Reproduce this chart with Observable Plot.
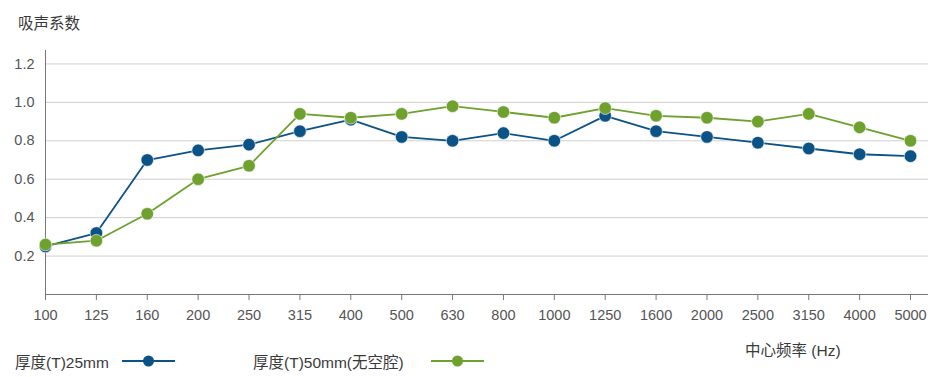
<!DOCTYPE html>
<html><head><meta charset="utf-8">
<script src="https://cdn.jsdelivr.net/npm/d3@7"></script>
<script src="https://cdn.jsdelivr.net/npm/@observablehq/plot@0.6"></script>
<style>
body{margin:0;background:#fff;font-family:"Liberation Sans","Noto Sans CJK SC",sans-serif;}
#wrap{position:relative;width:937px;height:377px;}
.t{position:absolute;color:#3a3a3a;font-size:15.5px;white-space:nowrap;font-family:"Liberation Sans","Noto Sans CJK SC",sans-serif;}
svg.lg{position:absolute;}
</style></head>
<body><div id="wrap"></div>
<script>
const freqs = ["100","125","160","200","250","315","400","500","630","800","1000","1250","1600","2000","2500","3150","4000","5000"];
const t25 = [0.25,0.32,0.70,0.75,0.78,0.85,0.91,0.82,0.80,0.84,0.80,0.93,0.85,0.82,0.79,0.76,0.73,0.72];
const t50 = [0.26,0.28,0.42,0.60,0.67,0.94,0.92,0.94,0.98,0.95,0.92,0.97,0.93,0.92,0.90,0.94,0.87,0.80];
const yTicks = [0.2,0.4,0.6,0.8,1.0,1.2];
const seriesNames = ["厚度(T)25mm","厚度(T)50mm(无空腔)"];
const colors = ["#0b5286","#6ea12e"];
const title = "吸声系数";
const xLabel = "中心频率 (Hz)";

const d25 = freqs.map((f,i)=>({f, v:t25[i]}));
const d50 = freqs.map((f,i)=>({f, v:t50[i]}));

const chart = Plot.plot({
  width:937, height:377,
  marginLeft:45, marginRight:9, marginTop:50, marginBottom:83,
  style:{fontFamily:"Liberation Sans, sans-serif", fontSize:"14.5px", color:"#555", background:"transparent"},
  x:{type:"point", domain:freqs, range:[45,910], padding:0, round:false, label:null},
  y:{domain:[0,1.27], label:null},
  marks:[
    Plot.gridY(yTicks,{stroke:"#cfcfcf", strokeOpacity:1, strokeWidth:1}),
    Plot.ruleY([0],{stroke:"#777", strokeWidth:1}),
    Plot.ruleX([freqs[0]],{x:d=>d, y1:0, y2:1.27, stroke:"#777", strokeWidth:1}),
    Plot.axisY(yTicks,{tickSize:0, tickPadding:11, tickFormat:d3.format(".1f"), fill:"#555", fontSize:14.5, label:null}),
    Plot.axisX({tickSize:6, tickPadding:9, stroke:"#777", fill:"#555", fontSize:14.5, label:null}),
    Plot.line(d25,{x:"f", y:"v", stroke:colors[0], strokeWidth:1.8}),
    Plot.line(d50,{x:"f", y:"v", stroke:colors[1], strokeWidth:1.8}),
    Plot.dot(d25,{x:"f", y:"v", r:6.3, fill:colors[0], stroke:"white", strokeWidth:0.6}),
    Plot.dot(d50,{x:"f", y:"v", r:6.3, fill:colors[1], stroke:"white", strokeWidth:0.6})
  ]
});
const wrap = document.getElementById("wrap");
chart.style.position="absolute"; chart.style.left="0"; chart.style.top="0";
wrap.appendChild(chart);

function addText(txt, x, y){
  const d=document.createElement("div"); d.className="t"; d.textContent=txt;
  d.style.left=x+"px"; d.style.top=y+"px";
  wrap.appendChild(d); return d;
}
addText(title, 18, 11);
addText(xLabel, 745, 338);
addText(seriesNames[0], 15, 350);
addText(seriesNames[1], 253, 350);
function legendSym(x, color){
  const ns="http://www.w3.org/2000/svg";
  const s=document.createElementNS(ns,"svg"); s.setAttribute("class","lg");
  s.setAttribute("width",60); s.setAttribute("height",16);
  s.style.left=x+"px"; s.style.top="353px";
  const l=document.createElementNS(ns,"line");
  l.setAttribute("x1",2);l.setAttribute("x2",55);l.setAttribute("y1",8);l.setAttribute("y2",8);
  l.setAttribute("stroke",color);l.setAttribute("stroke-width",1.8);
  const c=document.createElementNS(ns,"circle");
  c.setAttribute("cx",28.5);c.setAttribute("cy",8);c.setAttribute("r",5.5);c.setAttribute("fill",color);
  s.appendChild(l);s.appendChild(c);wrap.appendChild(s);
}
legendSym(120, colors[0]);
legendSym(429, colors[1]);
</script></body></html>
